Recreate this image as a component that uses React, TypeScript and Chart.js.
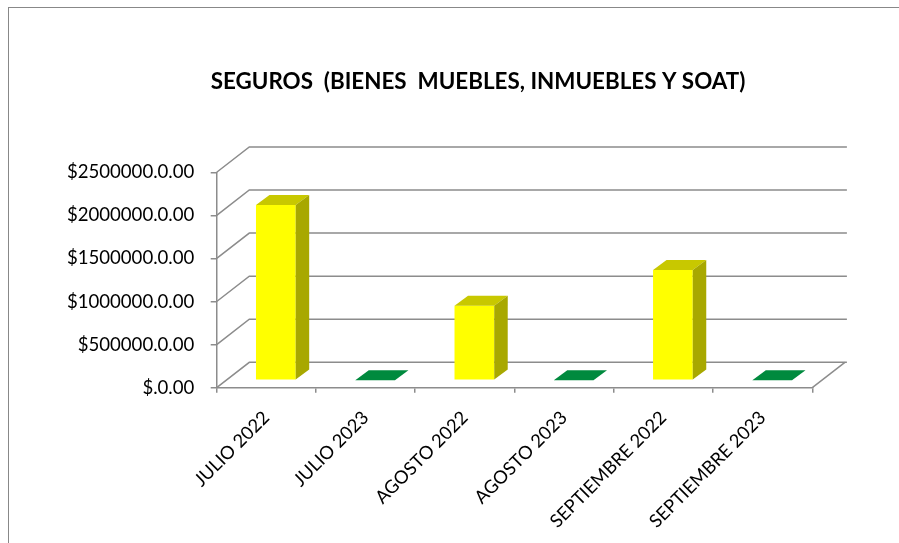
import React, { useEffect, useRef } from "react";
import { Chart, registerables } from "chart.js";

Chart.register(...registerables);

const chartTitle = "SEGUROS  (BIENES  MUEBLES, INMUEBLES Y SOAT)";
const categories = [
  "JULIO 2022",
  "JULIO 2023",
  "AGOSTO 2022",
  "AGOSTO 2023",
  "SEPTIEMBRE 2022",
  "SEPTIEMBRE 2023",
];
const values = [2033000, 0, 865000, 0, 1279000, 0];
const yTickValues = [0, 500000, 1000000, 1500000, 2000000, 2500000];

const frontColors = ["#FFFF00", "#008A3E", "#FFFF00", "#008A3E", "#FFFF00", "#008A3E"];
const topColors = ["#C8C800", "#008A3E", "#C8C800", "#008A3E", "#C8C800", "#008A3E"];
const sideColors = ["#A8A800", "#00702F", "#A8A800", "#00702F", "#A8A800", "#00702F"];

const GRID = "#8c8c8c";
const DEPTH = { x: 32.6, y: -25.4 };
const FRONT = { x: 9.5, y: -7.5 };
const BAR_DEPTH = { x: 13.5, y: -10 };

const fmt = (v: number) => (v === 0 ? "$.0.00" : `$${v}.0.00`);

const wall3d = {
  id: "wall3d",
  afterLayout(chart: any) {
    // let the value-axis labels extend into the left padding without clipping
    const y = chart.scales.y;
    y.left = 0;
  },
  beforeDatasetsDraw(chart: any) {
    const { ctx, chartArea: ca } = chart;
    const y = chart.scales.y;
    ctx.save();
    ctx.strokeStyle = GRID;
    ctx.lineWidth = 1.5;
    for (const t of y.ticks) {
      const py = y.getPixelForValue(t.value);
      ctx.beginPath();
      ctx.moveTo(ca.left, py);
      ctx.lineTo(ca.left + DEPTH.x, py + DEPTH.y);
      ctx.lineTo(ca.right + DEPTH.x + 2, py + DEPTH.y);
      ctx.stroke();
    }
    ctx.beginPath();
    ctx.moveTo(ca.right, ca.bottom);
    ctx.lineTo(ca.right + DEPTH.x, ca.bottom + DEPTH.y);
    ctx.stroke();
    ctx.restore();
    ctx.save();
    ctx.translate(FRONT.x, FRONT.y);
  },
  afterDatasetsDraw(chart: any) {
    const ctx = chart.ctx;
    ctx.restore();
    const meta = chart.getDatasetMeta(0);
    meta.data.forEach((bar: any, i: number) => {
      const { x, y, base, width } = bar.getProps(["x", "y", "base", "width"], true);
      const l = x - width / 2 + FRONT.x;
      const r = x + width / 2 + FRONT.x;
      const top = y + FRONT.y;
      const bot = base + FRONT.y;
      ctx.save();
      ctx.fillStyle = topColors[i];
      ctx.beginPath();
      ctx.moveTo(l, top);
      ctx.lineTo(r, top);
      ctx.lineTo(r + BAR_DEPTH.x, top + BAR_DEPTH.y);
      ctx.lineTo(l + BAR_DEPTH.x, top + BAR_DEPTH.y);
      ctx.closePath();
      ctx.fill();
      if (bot - top > 0.5) {
        ctx.fillStyle = sideColors[i];
        ctx.beginPath();
        ctx.moveTo(r, top);
        ctx.lineTo(r, bot);
        ctx.lineTo(r + BAR_DEPTH.x, bot + BAR_DEPTH.y);
        ctx.lineTo(r + BAR_DEPTH.x, top + BAR_DEPTH.y);
        ctx.closePath();
        ctx.fill();
      }
      ctx.restore();
    });
  },
};

export default function App() {
  const canvasRef = useRef<HTMLCanvasElement | null>(null);

  useEffect(() => {
    const canvas = canvasRef.current;
    if (!canvas) return;
    const chart = new Chart(canvas, {
      type: "bar",
      data: {
        labels: categories,
        datasets: [
          {
            data: values,
            backgroundColor: frontColors,
            borderWidth: 0,
            barPercentage: 0.4,
            categoryPercentage: 1.0,
          },
        ],
      },
      options: {
        responsive: false,
        animation: false,
        events: [],
        layout: { padding: { left: 143.7, right: 86.7, top: 0, bottom: 0 } },
        plugins: {
          legend: { display: false },
          tooltip: { enabled: false },
          title: {
            display: true,
            text: chartTitle,
            color: "#000000",
            font: { family: "Lato", size: 22.4, weight: "bold", lineHeight: 1.2 },
            padding: { top: 68.5, bottom: 76.9 },
          },
        },
        scales: {
          x: {
            offset: true,
            grid: {
              display: true,
              offset: true,
              drawOnChartArea: false,
              drawTicks: true,
              tickLength: 5,
              color: GRID,
              lineWidth: 1.5,
            },
            border: { display: true, color: GRID, width: 1.5 },
            ticks: {
              color: "#000000",
              font: { family: "Lato", size: 18.3 },
              maxRotation: 45,
              minRotation: 45,
              autoSkip: false,
              padding: 14,
            },
            afterFit: (s: any) => {
              s.height = 543 - 387.7;
            },
          },
          y: {
            min: 0,
            max: 2500000,
            grid: {
              display: true,
              drawOnChartArea: false,
              drawTicks: true,
              tickLength: 6,
              color: GRID,
              lineWidth: 1.5,
            },
            border: { display: true, color: GRID, width: 1.5 },
            ticks: {
              color: "#000000",
              font: { family: "Lato", size: 18.6 },
              padding: 16.4,
              callback: (v: any) => fmt(Number(v)),
            },
            afterBuildTicks: (s: any) => {
              s.ticks = yTickValues.map((v) => ({ value: v }));
            },
            afterFit: (s: any) => {
              s.width = 216.7 - 143.7;
            },
          },
        },
      },
      plugins: [wall3d],
    });
    return () => chart.destroy();
  }, []);

  return (
    <div
      style={{
        position: "fixed",
        left: 0,
        top: 0,
        width: 899,
        height: 543,
        overflow: "hidden",
        background: "#ffffff",
      }}
    >
      <canvas ref={canvasRef} width={899} height={543} style={{ display: "block" }} />
      <div
        style={{
          position: "absolute",
          left: 8,
          top: 7,
          width: 899,
          height: 543,
          borderLeft: "1px solid #888888",
          borderTop: "1px solid #888888",
          pointerEvents: "none",
        }}
      />
    </div>
  );
}
